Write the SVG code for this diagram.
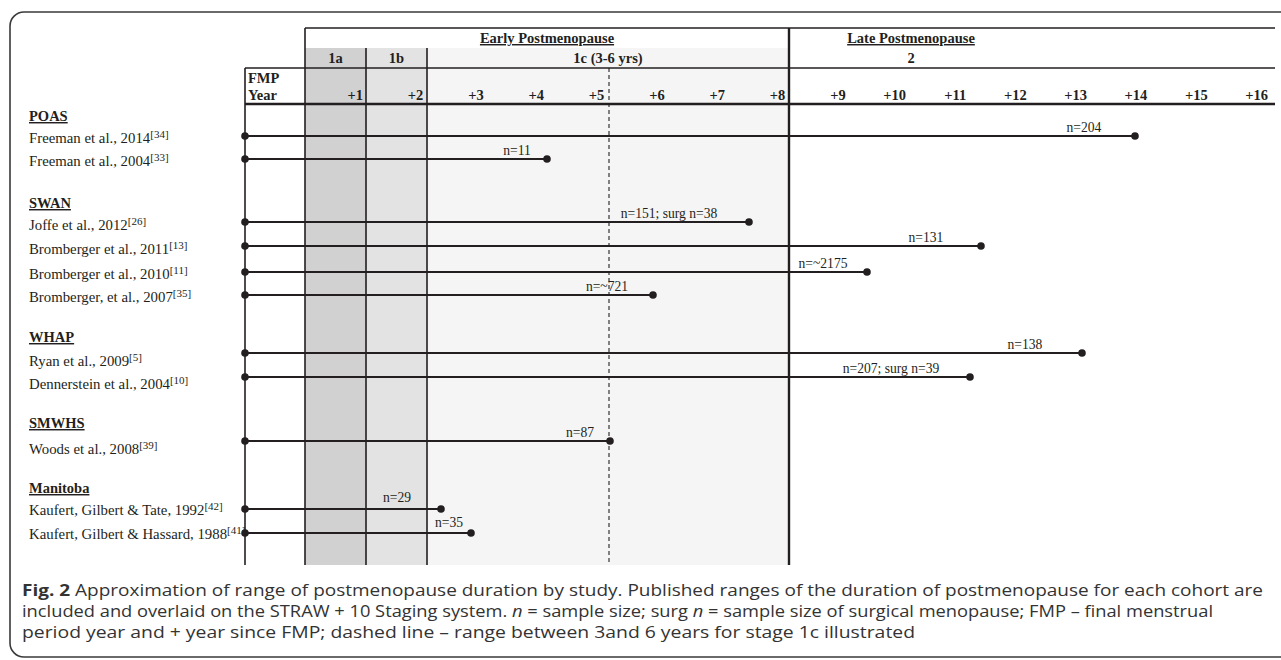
<svg xmlns="http://www.w3.org/2000/svg" width="1281" height="660" viewBox="0 0 1281 660">
<style>
.frame{fill:none;stroke:#3a3a3a;stroke-width:1.6}
.grid{stroke:#231f20;stroke-width:1.6;fill:none}
.thick{stroke:#231f20;stroke-width:2.4;fill:none}
.dash{stroke:#231f20;stroke-width:1.1;stroke-dasharray:4 3;fill:none}
.hdr{font-family:"Liberation Serif",serif;font-weight:bold;font-size:14.5px;fill:#231f20}
.ul{text-decoration:underline}
.name{font-family:"Liberation Serif",serif;font-size:14.8px;fill:#231f20}
.sup{font-size:11px}
.cohort{font-family:"Liberation Serif",serif;font-weight:bold;font-size:14.5px;fill:#231f20;text-decoration:underline}
.nl{font-family:"Liberation Serif",serif;font-size:13.6px;fill:#231f20}
.bar{stroke:#231f20;stroke-width:2;fill:none}
.dot{fill:#231f20}
.cap{font-family:"Open Sans","Liberation Sans",sans-serif;font-size:16.5px;fill:#333}
</style>
<rect class="frame" x="10" y="12" width="1300" height="645" rx="14"/>

<g id="staging-table">
  <rect x="305" y="48" width="61" height="517" fill="#d1d1d1"/>
  <rect x="366" y="48" width="61" height="517" fill="#e3e3e3"/>
  <rect x="427" y="48" width="362" height="517" fill="#f5f5f5"/>
  <line class="grid" x1="305" y1="28" x2="1275" y2="28"/>
  <line class="grid" x1="245" y1="68" x2="1275" y2="68"/>
  <line class="thick" x1="245" y1="104" x2="1275" y2="104"/>
  <line class="grid" x1="245" y1="68" x2="245" y2="565"/>
  <line class="grid" x1="305" y1="28" x2="305" y2="565"/>
  <line class="grid" x1="366" y1="48" x2="366" y2="565"/>
  <line class="grid" x1="427" y1="48" x2="427" y2="565"/>
  <line class="thick" x1="789" y1="28" x2="789" y2="565"/>
  <line class="dash" x1="609" y1="68" x2="609" y2="565"/>
  <text class="hdr ul" x="547" y="43" text-anchor="middle">Early Postmenopause</text>
  <text class="hdr ul" x="911" y="43" text-anchor="middle">Late Postmenopause</text>
  <text class="hdr" x="335.5" y="63" text-anchor="middle">1a</text>
  <text class="hdr" x="396.5" y="63" text-anchor="middle">1b</text>
  <text class="hdr" x="608" y="63" text-anchor="middle">1c (3-6 yrs)</text>
  <text class="hdr" x="911" y="63" text-anchor="middle">2</text>
  <text class="hdr" x="248" y="83">FMP</text>
  <text class="hdr" x="248" y="100">Year</text>
  <g class="hdr" text-anchor="end">
    <text x="363" y="100">+1</text>
    <text x="423.3" y="100">+2</text>
    <text x="483.7" y="100">+3</text>
    <text x="544" y="100">+4</text>
    <text x="604.3" y="100">+5</text>
    <text x="664.7" y="100">+6</text>
    <text x="725" y="100">+7</text>
    <text x="785.3" y="100">+8</text>
    <text x="845.7" y="100">+9</text>
    <text x="906" y="100">+10</text>
    <text x="966.3" y="100">+11</text>
    <text x="1026.7" y="100">+12</text>
    <text x="1087" y="100">+13</text>
    <text x="1147.3" y="100">+14</text>
    <text x="1207.7" y="100">+15</text>
    <text x="1268" y="100">+16</text>
  </g>
</g>

<g id="cohort-labels">
  <text class="cohort" x="29" y="121">POAS</text>
  <text class="cohort" x="29" y="208">SWAN</text>
  <text class="cohort" x="29" y="342">WHAP</text>
  <text class="cohort" x="29" y="428">SMWHS</text>
  <text class="cohort" x="29" y="493">Manitoba</text>
</g>

<g id="study-labels">
  <text class="name" x="29" y="143">Freeman et al., 2014<tspan class="sup" dy="-5">[34]</tspan></text>
  <text class="name" x="29" y="166">Freeman et al., 2004<tspan class="sup" dy="-5">[33]</tspan></text>
  <text class="name" x="29" y="230">Joffe et al., 2012<tspan class="sup" dy="-5">[26]</tspan></text>
  <text class="name" x="29" y="254">Bromberger et al., 2011<tspan class="sup" dy="-5">[13]</tspan></text>
  <text class="name" x="29" y="279">Bromberger et al., 2010<tspan class="sup" dy="-5">[11]</tspan></text>
  <text class="name" x="29" y="302">Bromberger, et al., 2007<tspan class="sup" dy="-5">[35]</tspan></text>
  <text class="name" x="29" y="366">Ryan et al., 2009<tspan class="sup" dy="-5">[5]</tspan></text>
  <text class="name" x="29" y="389">Dennerstein et al., 2004<tspan class="sup" dy="-5">[10]</tspan></text>
  <text class="name" x="29" y="454">Woods et al., 2008<tspan class="sup" dy="-5">[39]</tspan></text>
  <text class="name" x="29" y="515">Kaufert, Gilbert &amp; Tate, 1992<tspan class="sup" dy="-5">[42]</tspan></text>
  <text class="name" x="29" y="539">Kaufert, Gilbert &amp; Hassard, 1988<tspan class="sup" dy="-5">[41]</tspan></text>
</g>

<g id="connectors">
  <line class="bar" x1="245" y1="136" x2="1135" y2="136"/><circle class="dot" cx="245" cy="136" r="3.8"/><circle class="dot" cx="1135" cy="136" r="3.8"/>
  <line class="bar" x1="245" y1="159" x2="547" y2="159"/><circle class="dot" cx="245" cy="159" r="3.8"/><circle class="dot" cx="547" cy="159" r="3.8"/>
  <line class="bar" x1="245" y1="222" x2="749" y2="222"/><circle class="dot" cx="245" cy="222" r="3.8"/><circle class="dot" cx="749" cy="222" r="3.8"/>
  <line class="bar" x1="245" y1="246" x2="981" y2="246"/><circle class="dot" cx="245" cy="246" r="3.8"/><circle class="dot" cx="981" cy="246" r="3.8"/>
  <line class="bar" x1="245" y1="272" x2="867" y2="272"/><circle class="dot" cx="245" cy="272" r="3.8"/><circle class="dot" cx="867" cy="272" r="3.8"/>
  <line class="bar" x1="245" y1="295" x2="653" y2="295"/><circle class="dot" cx="245" cy="295" r="3.8"/><circle class="dot" cx="653" cy="295" r="3.8"/>
  <line class="bar" x1="245" y1="353" x2="1082" y2="353"/><circle class="dot" cx="245" cy="353" r="3.8"/><circle class="dot" cx="1082" cy="353" r="3.8"/>
  <line class="bar" x1="245" y1="377" x2="970" y2="377"/><circle class="dot" cx="245" cy="377" r="3.8"/><circle class="dot" cx="970" cy="377" r="3.8"/>
  <line class="bar" x1="245" y1="441" x2="610" y2="441"/><circle class="dot" cx="245" cy="441" r="3.8"/><circle class="dot" cx="610" cy="441" r="3.8"/>
  <line class="bar" x1="245" y1="509" x2="441" y2="509"/><circle class="dot" cx="245" cy="509" r="3.8"/><circle class="dot" cx="441" cy="509" r="3.8"/>
  <line class="bar" x1="245" y1="533" x2="471" y2="533"/><circle class="dot" cx="245" cy="533" r="3.8"/><circle class="dot" cx="471" cy="533" r="3.8"/>
</g>

<g id="n-labels" class="nl" text-anchor="middle">
  <text x="1084" y="132">n=204</text>
  <text x="517" y="155">n=11</text>
  <text x="669" y="218">n=151; surg n=38</text>
  <text x="926" y="242">n=131</text>
  <text x="823" y="268">n=~2175</text>
  <text x="607" y="291">n=~721</text>
  <text x="1025" y="349">n=138</text>
  <text x="891" y="373">n=207; surg n=39</text>
  <text x="580" y="437">n=87</text>
  <text x="397" y="502">n=29</text>
  <text x="449" y="527">n=35</text>
</g>

<g id="caption" class="cap">
  <text x="22" y="596" textLength="1241" lengthAdjust="spacingAndGlyphs"><tspan font-weight="bold">Fig. 2</tspan> Approximation of range of postmenopause duration by study. Published ranges of the duration of postmenopause for each cohort are</text>
  <text x="22" y="617" textLength="1191" lengthAdjust="spacingAndGlyphs">included and overlaid on the STRAW + 10 Staging system. <tspan font-style="italic">n</tspan> = sample size; surg <tspan font-style="italic">n</tspan> = sample size of surgical menopause; FMP – final menstrual</text>
  <text x="22" y="638" textLength="893" lengthAdjust="spacingAndGlyphs">period year and + year since FMP; dashed line – range between 3and 6 years for stage 1c illustrated</text>
</g>
</svg>
